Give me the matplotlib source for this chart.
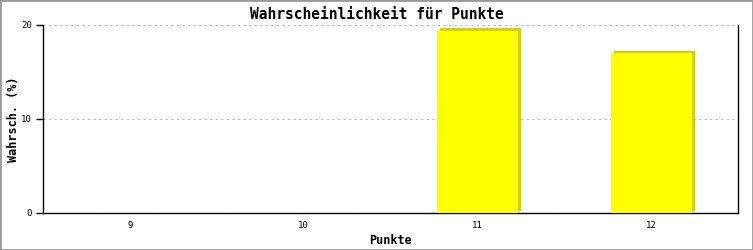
import matplotlib
matplotlib.use("Agg")
import matplotlib.pyplot as plt
import matplotlib.transforms as mtransforms
from matplotlib.patches import Rectangle

# data
punkte = ["9", "10", "11", "12"]
wahrsch = [0.0, 0.0, 19.4, 17.0]
y_ticks = [0, 10, 20]

font = "DejaVu Sans Mono"
fig = plt.figure(figsize=(7.53, 2.5), dpi=100)
ax = fig.add_axes([43 / 753, 37 / 250, 695 / 753, 188 / 250])

x = list(range(len(punkte)))
# 3d-ish shadow, shifted a few pixels right/up
shadow = mtransforms.offset_copy(ax.transData, fig=fig, x=3.5, y=2.5, units="dots")
ax.bar(x, wahrsch, width=0.465, color="#d6d000", transform=shadow, zorder=2)
ax.bar(x, wahrsch, width=0.465, color="#ffff00", zorder=3)

ax.set_xlim(-0.5, len(punkte) - 0.5)
ax.set_ylim(0, 20)
ax.set_xticks(x)
ax.set_xticklabels(punkte, family=font, fontsize=6.5)
ax.set_yticks(y_ticks)
ax.set_yticklabels([str(t) for t in y_ticks], family=font, fontsize=6.5)
ax.tick_params(axis="x", length=0, pad=6)
ax.tick_params(axis="y", length=5, width=1, pad=3)

ax.yaxis.grid(True, linestyle=(0, (2, 3)), color="#bbbbbb", linewidth=0.8)
ax.set_axisbelow(True)
ax.spines["top"].set_visible(False)
for s in ["left", "bottom", "right"]:
    ax.spines[s].set_linewidth(1)

fig.suptitle("Wahrscheinlichkeit für Punkte", x=0.5, y=0.972, va="top",
             family=font, fontsize=10.5, fontweight="bold")
ax.set_xlabel("Punkte", family=font, fontsize=8.5, fontweight="bold", labelpad=3)
ax.set_ylabel("Wahrsch. (%)", family=font, fontsize=8.5, fontweight="bold")
ax.yaxis.label.set_va("center")
ax.yaxis.set_label_coords(-0.042, 0.5)

# grey frame round the whole picture
fig.patches.append(Rectangle((0, 0), 1, 1, transform=fig.transFigure, fill=False,
                             edgecolor="#999999", linewidth=2))

fig.savefig("out.png", dpi=100)
